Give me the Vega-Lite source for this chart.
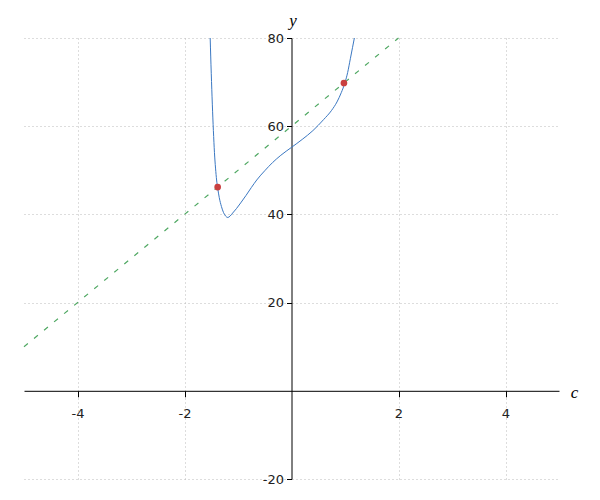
{
  "$schema": "https://vega.github.io/schema/vega-lite/v6.json",
  "width": 535,
  "height": 441,
  "autosize": {"type": "none"},
  "padding": {"left": 24, "top": 38, "right": 41, "bottom": 21},
  "background": "white",
  "config": {
    "view": {"stroke": null},
    "axis": {
      "labelFont": "DejaVu Sans",
      "labelFontSize": 13,
      "labelColor": "#222222",
      "domainColor": "#000000",
      "domainWidth": 1,
      "tickColor": "#000000",
      "tickWidth": 1,
      "grid": true,
      "gridColor": "#bbbbbb",
      "gridDash": [1, 3],
      "gridWidth": 1,
      "titleFont": "Liberation Serif",
      "titleFontStyle": "italic",
      "titleFontWeight": "normal",
      "titleFontSize": 17,
      "titleColor": "#000000"
    }
  },
  "encoding": {
    "x": {
      "field": "x",
      "type": "quantitative",
      "scale": {"domain": [-5, 5], "nice": false, "zero": false},
      "axis": {
        "title": "c",
        "values": [-4, -2, 2, 4],
        "labelExpr": "'' + datum.value",
        "offset": -88.2,
        "tickSize": 6,
        "labelPadding": 11,
        "titleAnchor": "end",
        "titleX": 550,
        "titleY": 2,
        "titleAlign": "center",
        "titleBaseline": "middle"
      }
    },
    "y": {
      "field": "y",
      "type": "quantitative",
      "scale": {"domain": [-20, 80], "nice": false, "zero": false},
      "axis": {
        "title": "y",
        "values": [-20, 20, 40, 60, 80],
        "labelExpr": "'' + datum.value",
        "offset": -267.5,
        "tickSize": 5,
        "labelPadding": 3,
        "titleAngle": 0,
        "titleX": 1,
        "titleY": -18,
        "titleAlign": "center",
        "titleBaseline": "middle"
      }
    }
  },
  "layer": [
    {
      "data": {"values": [
        {"x": -5, "y": 10},
        {"x": 2, "y": 80}
      ]},
      "mark": {"type": "line", "color": "#4fa862", "strokeWidth": 1.2, "strokeDash": [5, 8]}
    },
    {
      "data": {"values": [
        {"x": -1.52, "y": 80},
        {"x": -1.50, "y": 72},
        {"x": -1.48, "y": 65},
        {"x": -1.46, "y": 59},
        {"x": -1.44, "y": 54},
        {"x": -1.42, "y": 50.5},
        {"x": -1.40, "y": 47.8},
        {"x": -1.38, "y": 46.0},
        {"x": -1.35, "y": 43.8},
        {"x": -1.31, "y": 41.8},
        {"x": -1.27, "y": 40.4},
        {"x": -1.23, "y": 39.6},
        {"x": -1.19, "y": 39.3},
        {"x": -1.15, "y": 39.6},
        {"x": -1.10, "y": 40.3},
        {"x": -1.03, "y": 41.3},
        {"x": -0.95, "y": 42.6},
        {"x": -0.85, "y": 44.3},
        {"x": -0.75, "y": 46.1},
        {"x": -0.65, "y": 47.8},
        {"x": -0.50, "y": 49.9},
        {"x": -0.35, "y": 51.8},
        {"x": -0.20, "y": 53.4},
        {"x": 0.0, "y": 55.2},
        {"x": 0.2, "y": 57.0},
        {"x": 0.4, "y": 59.0},
        {"x": 0.6, "y": 61.5},
        {"x": 0.75, "y": 63.6},
        {"x": 0.85, "y": 65.5},
        {"x": 0.93, "y": 67.6},
        {"x": 1.0, "y": 69.9},
        {"x": 1.05, "y": 72.2},
        {"x": 1.10, "y": 75.3},
        {"x": 1.14, "y": 77.8},
        {"x": 1.18, "y": 80.3}
      ]},
      "mark": {"type": "line", "color": "#3b78c2", "strokeWidth": 1, "interpolate": "monotone", "clip": true}
    },
    {
      "data": {"values": [
        {"x": -1.38, "y": 46.2},
        {"x": 0.98, "y": 69.8}
      ]},
      "mark": {"type": "point", "filled": true, "shape": "circle", "size": 45, "color": "#c94040", "opacity": 1}
    }
  ]
}
